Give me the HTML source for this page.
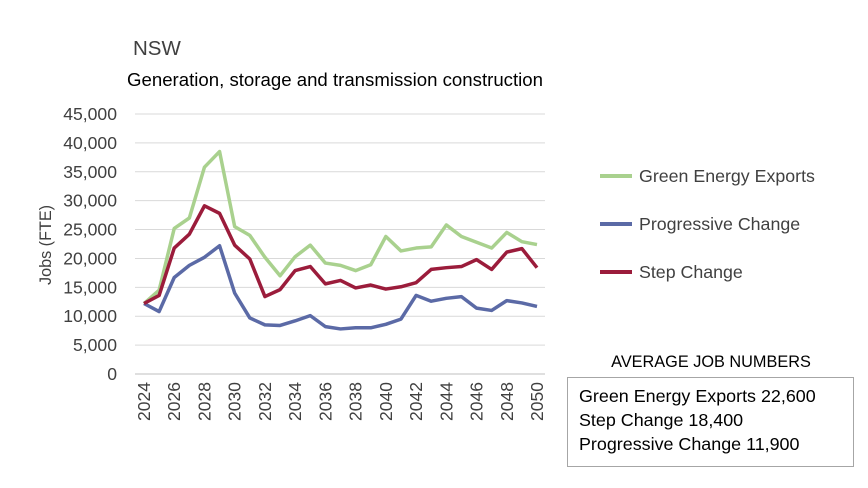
<!DOCTYPE html>
<html><head><meta charset="utf-8"><style>
body{margin:0;background:#fff;font-family:"Liberation Sans",sans-serif;}
svg text{font-family:"Liberation Sans",sans-serif;fill:#404040;}
</style></head><body>
<svg width="868" height="483">
<rect width="868" height="483" fill="#fff"/>
<text x="133" y="55" font-size="20.5">NSW</text>
<text x="127" y="86" font-size="18" textLength="416" lengthAdjust="spacingAndGlyphs" style="fill:#000">Generation, storage and transmission construction</text>
<g id="grid"></g><g id="yt"></g><g id="xt"></g><g id="lines"></g>
<text transform="translate(51,245) rotate(-90)" text-anchor="middle" font-size="16.2">Jobs (FTE)</text>
<g>
<line x1="600" y1="176" x2="632" y2="176" stroke="#a9d18e" stroke-width="4"/>
<text x="639" y="182" font-size="17.8">Green Energy Exports</text>
<line x1="600" y1="224" x2="632" y2="224" stroke="#5b6aa6" stroke-width="4"/>
<text x="639" y="230" font-size="17.8">Progressive Change</text>
<line x1="600" y1="272" x2="632" y2="272" stroke="#9b1c3b" stroke-width="4"/>
<text x="639" y="278" font-size="17.8">Step Change</text>
</g>
<text x="711" y="367" text-anchor="middle" font-size="16.3" style="fill:#000">AVERAGE JOB NUMBERS</text>
<rect x="567.5" y="377.5" width="286" height="89" fill="#fff" stroke="#a6a6a6"/>
<text x="579" y="402" font-size="17.9" style="fill:#000">Green Energy Exports 22,600</text>
<text x="579" y="426" font-size="17.9" style="fill:#000">Step Change 18,400</text>
<text x="579" y="450" font-size="17.9" style="fill:#000">Progressive Change 11,900</text>
</svg>
<script>
const years=[2024,2025,2026,2027,2028,2029,2030,2031,2032,2033,2034,2035,2036,2037,2038,2039,2040,2041,2042,2043,2044,2045,2046,2047,2048,2049,2050];
const green=[12200,14500,25200,27000,35800,38500,25500,24000,20200,17000,20300,22300,19200,18800,17900,18900,23800,21300,21800,22000,25800,23800,22800,21800,24500,22900,22400];
const step=[12200,13600,21800,24200,29100,27800,22300,19900,13400,14600,17900,18600,15600,16200,14900,15400,14700,15100,15800,18100,18400,18600,19800,18100,21100,21700,18400];
const prog=[12200,10800,16700,18800,20200,22200,14000,9700,8500,8400,9200,10100,8200,7800,8000,8000,8600,9500,13600,12600,13100,13400,11400,11000,12700,12300,11700];
const yTicks=[0,5000,10000,15000,20000,25000,30000,35000,40000,45000];
const NS="http://www.w3.org/2000/svg";
const y=v=>374-v*260/45000;
const x=i=>144+i*(537-144)/(years.length-1);
function mk(t,a,p){const e=document.createElementNS(NS,t);for(const k in a)e.setAttribute(k,a[k]);document.getElementById(p).appendChild(e);return e;}
yTicks.forEach(v=>{
 const l=mk('line',{x1:135,x2:545,y1:y(v),y2:y(v),stroke:v?'#d9d9d9':'#bfbfbf','stroke-width':1},'grid');
 
 
 const t=mk('text',{x:117,y:y(v)+6,'text-anchor':'end','font-size':17.6},'yt');
 t.textContent=v.toLocaleString('en-US');
 
 
});
years.forEach((yr,i)=>{
 if(i%2)return;
 const t=mk('text',{transform:`translate(${x(i)+6},${382}) rotate(-90)`,'text-anchor':'end','font-size':17.5},'xt');
 t.textContent=yr;
 
 
});
[[green,'#a9d18e','green-energy-exports-line'],[prog,'#5b6aa6','progressive-change-line'],[step,'#9b1c3b','step-change-line']].forEach(([d,c,n])=>{
 const p=mk('polyline',{points:d.map((v,i)=>x(i)+','+y(v)).join(' '),fill:'none',stroke:c,'stroke-width':3.5,'stroke-linejoin':'round'},'lines');
 
 
});
</script>
</body></html>
